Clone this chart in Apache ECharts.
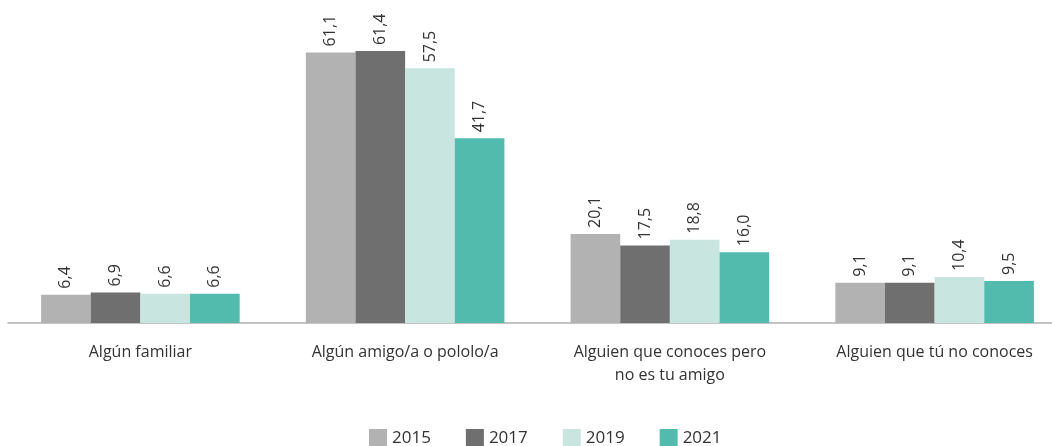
<!DOCTYPE html>
<html><head><meta charset="utf-8">
<script src="https://cdn.jsdelivr.net/npm/echarts@6/dist/echarts.min.js"></script>
<style>html,body{margin:0;padding:0;background:#fff}#c{width:1052px;height:446px}</style>
</head><body><div id="c"></div>
<script>
const categories = ['Algún familiar', 'Algún amigo/a o pololo/a', 'Alguien que conoces pero\nno es tu amigo', 'Alguien que tú no conoces'];
const years = ['2015', '2017', '2019', '2021'];
const v2015 = [6.4, 61.1, 20.1, 9.1];
const v2017 = [6.9, 61.4, 17.5, 9.1];
const v2019 = [6.6, 57.5, 18.8, 10.4];
const v2021 = [6.6, 41.7, 16.0, 9.5];
const colors = ['#b2b2b2', '#6f6f6f', '#c8e5df', '#52bbad'];
const values = [v2015, v2017, v2019, v2021];
const font = '"Open Sans", sans-serif';
const chart = echarts.init(document.getElementById('c'));
chart.setOption({
  animation: false,
  textStyle: {fontFamily: font},
  legend: {
    bottom: -6, left: 364, itemWidth: 18, itemHeight: 18, itemGap: 35,
    icon: 'rect',
    textStyle: {fontSize: 17, color: '#333', fontFamily: font}
  },
  grid: {left: 8, right: -15, top: 13, bottom: 123, containLabel: false, outerBoundsMode: 'none'},
  xAxis: {
    type: 'category', data: categories,
    axisLine: {lineStyle: {color: '#b0b0b0', width: 1.5}},
    axisTick: {show: false},
    axisLabel: {color: '#333', fontSize: 16, margin: 18, lineHeight: 23, fontFamily: font}
  },
  yAxis: {type: 'value', min: 0, max: 70, show: false, splitLine: {show: false}},
  series: years.map((y, i) => ({
    name: y, type: 'bar', data: values[i], barGap: '0%', barCategoryGap: '25%',
    itemStyle: {color: colors[i]},
    label: {
      show: true, position: 'top', rotate: 90, align: 'left', verticalAlign: 'middle',
      distance: 6, fontSize: 16, color: '#333', fontFamily: font,
      formatter: p => p.value.toFixed(1).replace('.', ',')
    }
  }))
});
</script></body></html>
